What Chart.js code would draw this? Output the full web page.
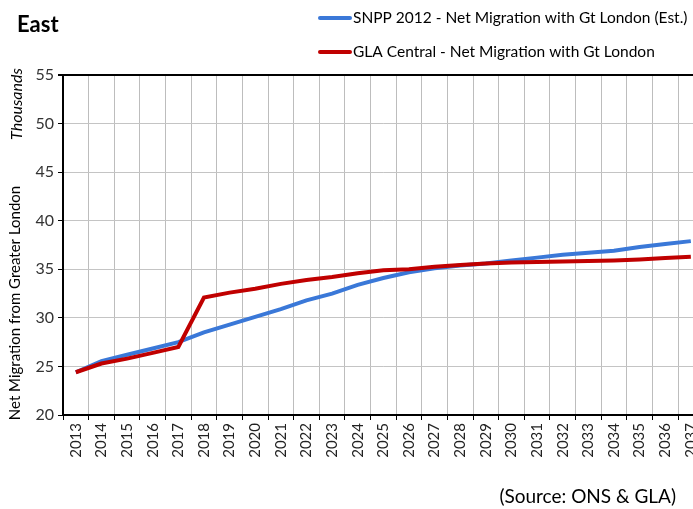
<!DOCTYPE html>
<html lang="en">
<head>
    <meta charset="UTF-8">
    <title>East - Net Migration from Greater London</title>
    <script src="https://cdn.jsdelivr.net/npm/chart.js"></script>
    <style>
        html, body { margin: 0; padding: 0; overflow: hidden; background: #fff; }
        /* the chart is a bit wider than the window, so the right edge is cut like in the original */
        .chart-container { position: absolute; left: 0; top: 0; width: 712px; height: 509px; }
    </style>
</head>
<body>

    <div class="chart-container">
        <canvas id="eastChart"></canvas>
    </div>

    <script>
        // years on the x axis
        const years = ["2013", "2014", "2015", "2016", "2017", "2018", "2019", "2020", "2021", "2022",
            "2023", "2024", "2025", "2026", "2027", "2028", "2029", "2030", "2031", "2032",
            "2033", "2034", "2035", "2036", "2037"];

        // thousands
        const snpp2012 = [24.4, 25.55, 26.2, 26.85, 27.5, 28.5, 29.3, 30.1, 30.9, 31.8,
            32.5, 33.4, 34.1, 34.7, 35.1, 35.4, 35.6, 35.9, 36.2, 36.5,
            36.7, 36.9, 37.3, 37.6, 37.9];
        const glaCentral = [24.4, 25.3, 25.8, 26.4, 27.0, 32.1, 32.6, 33.0, 33.5, 33.9,
            34.2, 34.6, 34.9, 35.0, 35.25, 35.45, 35.6, 35.7, 35.75, 35.8,
            35.85, 35.9, 36.0, 36.15, 36.3];

        const yTicks = [20, 25, 30, 35, 40, 45, 50, 55];

        const chartTitle = "East";
        const yTitle = "Net Migration from Greater London";
        const unitsLabel = "Thousands";
        const sourceNote = "(Source: ONS & GLA)";

        const FONT = "Lato, 'Open Sans', sans-serif";

        // titre, légende, textes des axes
        const extraText = {
            id: 'extraText',
            afterDraw(chart) {
                const ctx = chart.ctx;
                ctx.save();
                ctx.fillStyle = '#000';
                ctx.textBaseline = 'middle';

                ctx.font = 'bold 22px ' + FONT;
                ctx.fillText(chartTitle, 17, 25);

                // legend, in dataset order
                ctx.font = '15.5px ' + FONT;
                chart.data.datasets.forEach((ds, i) => {
                    const y = 18 + i * 34;
                    ctx.strokeStyle = ds.borderColor;
                    ctx.lineWidth = 4;
                    ctx.lineCap = 'round';
                    ctx.beginPath();
                    ctx.moveTo(320, y);
                    ctx.lineTo(350, y);
                    ctx.stroke();
                    ctx.fillText(ds.label, 353, y);
                });

                // axis title + units
                ctx.save();
                ctx.translate(15, 303);
                ctx.rotate(-Math.PI / 2);
                ctx.textAlign = 'center';
                ctx.font = '15px ' + FONT;
                ctx.fillText(yTitle, 0, 0);
                ctx.restore();

                ctx.save();
                ctx.translate(17, 104);
                ctx.rotate(-Math.PI / 2);
                ctx.textAlign = 'center';
                ctx.font = 'italic 16px ' + FONT;
                ctx.fillText(unitsLabel, 0, 0);
                ctx.restore();

                ctx.font = '19px ' + FONT;
                ctx.textAlign = 'right';
                ctx.fillText(sourceNote, 676, 497);
                ctx.restore();
            }
        };

        const ctx = document.getElementById('eastChart').getContext('2d');
        new Chart(ctx, {
            type: 'line',
            data: {
                labels: years,
                datasets: [{
                    label: 'SNPP 2012 - Net Migration with Gt London (Est.)',
                    data: snpp2012,
                    borderColor: '#3A78D8',
                    borderWidth: 4,
                    pointRadius: 0,
                    order: 1
                }, {
                    label: 'GLA Central - Net Migration with Gt London',
                    data: glaCentral,
                    borderColor: '#C00000',
                    borderWidth: 4,
                    pointRadius: 0,
                    order: 0 // rouge au-dessus
                }]
            },
            options: {
                responsive: true,
                maintainAspectRatio: false,
                animation: false,
                layout: { padding: { top: 75, left: 1, right: 8, bottom: 0 } },
                plugins: {
                    legend: { display: false },
                    title: { display: false },
                    tooltip: { enabled: false }
                },
                scales: {
                    x: {
                        offset: true,
                        grid: { offset: true, color: '#BDBDBD', tickColor: '#000', tickLength: 5 },
                        border: { color: '#000', width: 2 },
                        ticks: {
                            minRotation: 90, maxRotation: 90, autoSkip: false,
                            color: '#222', font: { family: FONT, size: 15 }, padding: 3
                        },
                        afterFit(scale) { scale.height = 94; }
                    },
                    y: {
                        min: yTicks[0],
                        max: yTicks[yTicks.length - 1],
                        afterBuildTicks(scale) { scale.ticks = yTicks.map(v => ({ value: v })); },
                        grid: {
                            color: c => (c.tick && c.tick.value === 55) ? '#000' : '#C4C4C4',
                            lineWidth: c => (c.tick && c.tick.value === 55) ? 2 : 1,
                            tickColor: '#000', tickLength: 5
                        },
                        border: { color: '#000', width: 2 },
                        ticks: { color: '#333', font: { family: FONT, size: 16 }, padding: 4 },
                        afterFit(scale) { scale.width = 62; }
                    }
                }
            },
            plugins: [extraText]
        });
    </script>

</body>
</html>
